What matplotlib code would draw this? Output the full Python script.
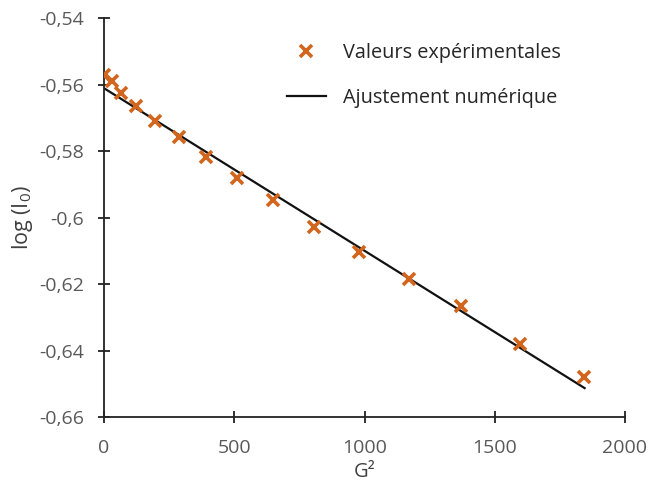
import matplotlib
matplotlib.use("Agg")
import matplotlib.pyplot as plt
from matplotlib.ticker import FuncFormatter
import numpy as np

# Data
g2 = [0, 30, 64, 121, 196, 286, 390, 512, 650, 808, 980, 1172, 1372, 1598, 1843]
log_i0 = [-0.5571, -0.5590, -0.5626, -0.5666, -0.5711, -0.5758, -0.5818, -0.5881,
          -0.5947, -0.6029, -0.6104, -0.6185, -0.6266, -0.6379, -0.6481]
fit_x = [0, 1845]
fit_y = [-0.5611, -0.6513]
x_ticks = [0, 500, 1000, 1500, 2000]
y_ticks = [-0.66, -0.64, -0.62, -0.60, -0.58, -0.56, -0.54]

plt.rcParams['font.family'] = ['Open Sans', 'DejaVu Sans']
plt.rcParams['mathtext.fontset'] = 'custom'
plt.rcParams['mathtext.rm'] = 'Open Sans'
plt.rcParams['mathtext.it'] = 'Open Sans'

fig = plt.figure(figsize=(6.48, 4.83), dpi=100)
ax = fig.add_axes([0.1605, 0.1366, 0.804, 0.826])

orange = '#D2661E'
ax.plot(g2, log_i0, linestyle='none', marker='x', color=orange, markersize=9,
        markeredgewidth=2.6, label='Valeurs expérimentales', zorder=3)
ax.plot(fit_x, fit_y, color='#111111', linewidth=1.6, label='Ajustement numérique', zorder=2)

ax.set_xlim(0, 2000)
ax.set_ylim(-0.66, -0.54)
ax.set_xticks(x_ticks)
ax.set_yticks(y_ticks)

def fmt(v, pos):
    return ('%g' % round(v, 4)).replace('.', ',')
ax.yaxis.set_major_formatter(FuncFormatter(fmt))
ax.xaxis.set_major_formatter(FuncFormatter(lambda v, p: '%d' % v))

for side in ['top', 'right']:
    ax.spines[side].set_visible(False)
for side in ['left', 'bottom']:
    ax.spines[side].set_color('#222222')
    ax.spines[side].set_linewidth(1.3)

ax.tick_params(direction='inout', length=9, width=1.3, color='#222222',
               labelsize=14, labelcolor='#595959')
ax.tick_params(axis='y', pad=10)
ax.tick_params(axis='x', pad=11)

ax.set_xlabel('G²', fontsize=14.5, color='#404040', labelpad=4)
ax.set_ylabel('log (I$_0$)', fontsize=15.5, color='#404040', labelpad=3)

leg = ax.legend(loc='upper left', bbox_to_anchor=(287 / 648, 1 - 43 / 483),
                bbox_transform=fig.transFigure, frameon=False, borderpad=0,
                borderaxespad=0, fontsize=14.3, labelspacing=1.25,
                handlelength=1.95, handletextpad=0.85, labelcolor='#262626')

fig.savefig('out.png', dpi=100)
